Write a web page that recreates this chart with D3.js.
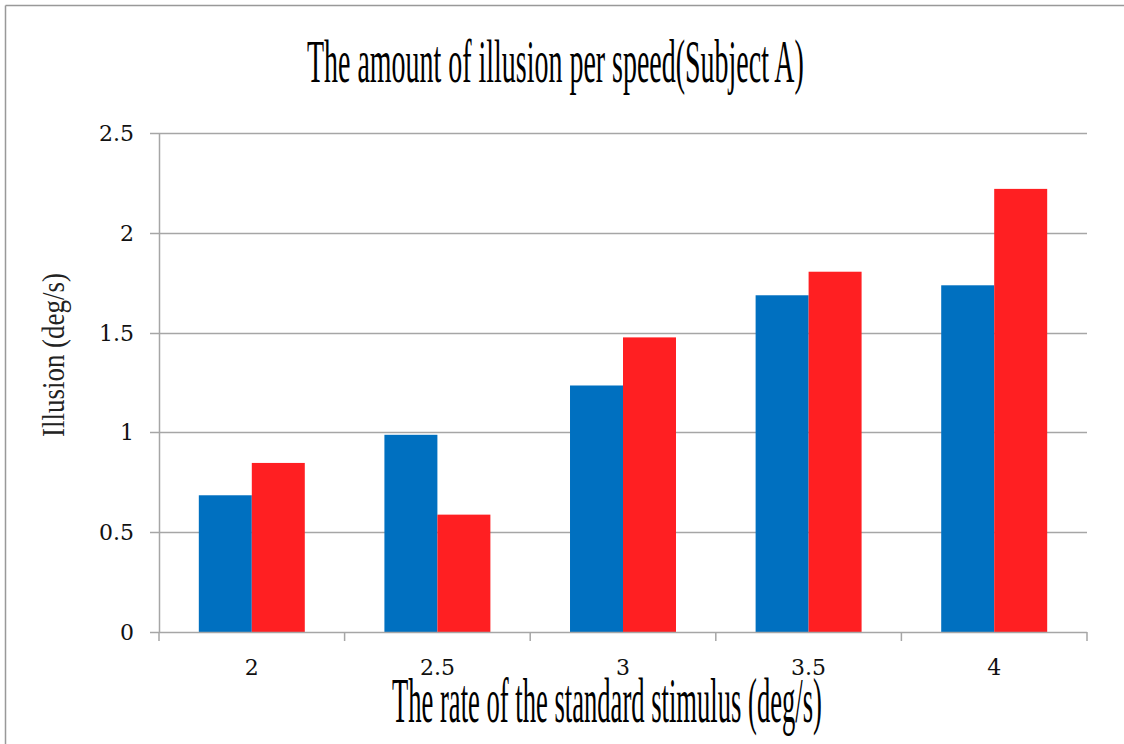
<!DOCTYPE html>
<html>
<head>
<meta charset="utf-8">
<script src="https://cdn.jsdelivr.net/npm/d3@7"></script>
<style>
  html, body { margin: 0; padding: 0; background: #fff; }
  svg { display: block; }
</style>
</head>
<body>
<svg id="chart" width="1124" height="744"></svg>
<script>
const categories = ["2", "2.5", "3", "3.5", "4"];
const seriesNames = ["A", "B"];
const blueValues = [0.685, 0.988, 1.235, 1.687, 1.737];
const redValues = [0.847, 0.588, 1.476, 1.805, 2.220];
const yTicks = [0, 0.5, 1, 1.5, 2, 2.5];
const yTickLabels = ["0", "0.5", "1", "1.5", "2", "2.5"];
const colors = ["#0070C0", "#FF1F22"];
const titleText = "The amount of illusion per speed(Subject A)";
const xTitleText = "The rate of the standard stimulus (deg/s)";
const yTitleText = "Illusion (deg/s)";

(function () {
const svg = d3.select("#chart");
const pLeft = 159, pRight = 1087, pTop = 133, pBottom = 632;
const serif = "'Liberation Serif', 'DejaVu Serif', serif";
const tickFont = "'DejaVu Serif', 'Liberation Serif', serif";

// outer frame (top and left edges visible)
svg.append("line").attr("x1", 5.5).attr("x2", 1124).attr("y1", 5.5).attr("y2", 5.5)
  .attr("stroke", "#999").attr("stroke-width", 1.5);
svg.append("line").attr("x1", 5.5).attr("x2", 5.5).attr("y1", 5.5).attr("y2", 744)
  .attr("stroke", "#999").attr("stroke-width", 1.5);

const x0 = d3.scaleBand().domain(categories).range([pLeft, pRight])
  .paddingInner(0.429).paddingOuter(0.2145);
const x1 = d3.scaleBand().domain(seriesNames).range([0, x0.bandwidth()]);
const y = d3.scaleLinear().domain([0, 2.5]).range([pBottom, pTop]);

// gridlines
svg.append("g").selectAll("line").data(yTicks.filter(d => d > 0)).join("line")
  .attr("x1", pLeft).attr("x2", pRight)
  .attr("y1", d => Math.round(y(d)) + 0.5).attr("y2", d => Math.round(y(d)) + 0.5)
  .attr("stroke", "#A6A6A6").attr("stroke-width", 1.5);

// bars
const data = categories.map((c, i) => ({ cat: c, vals: [blueValues[i], redValues[i]] }));
const groups = svg.append("g").selectAll("g").data(data).join("g")
  .attr("transform", d => `translate(${x0(d.cat)},0)`);
groups.selectAll("rect").data(d => d.vals.map((v, j) => ({ s: seriesNames[j], v, j })))
  .join("rect")
  .attr("x", d => x1(d.s))
  .attr("y", d => y(d.v))
  .attr("width", x1.bandwidth())
  .attr("height", d => y(0) - y(d.v))
  .attr("fill", d => colors[d.j]);

// y axis line and ticks
svg.append("line").attr("x1", pLeft + 0.5).attr("x2", pLeft + 0.5).attr("y1", pTop).attr("y2", pBottom)
  .attr("stroke", "#A6A6A6").attr("stroke-width", 1.5);
svg.append("g").selectAll("line").data(yTicks).join("line")
  .attr("x1", pLeft - 9).attr("x2", pLeft)
  .attr("y1", d => Math.round(y(d)) + 0.5).attr("y2", d => Math.round(y(d)) + 0.5)
  .attr("stroke", "#A6A6A6").attr("stroke-width", 1.5);
svg.append("g").selectAll("text").data(yTicks).join("text")
  .attr("x", 134).attr("y", d => y(d) + 8)
  .attr("text-anchor", "end")
  .attr("font-family", tickFont).attr("font-size", 22).attr("fill", "#111")
  .text((d, i) => yTickLabels[i]);

// x axis line and ticks
svg.append("line").attr("x1", pLeft).attr("x2", pRight).attr("y1", pBottom + 0.5).attr("y2", pBottom + 0.5)
  .attr("stroke", "#A6A6A6").attr("stroke-width", 1.5);
const boundaries = categories.map(c => x0(c) - x0.step() * x0.paddingInner() / 2).concat([pRight]);
boundaries[0] = pLeft;
svg.append("g").selectAll("line").data(boundaries).join("line")
  .attr("x1", d => d).attr("x2", d => d)
  .attr("y1", pBottom).attr("y2", pBottom + 9)
  .attr("stroke", "#A6A6A6").attr("stroke-width", 1.5);
svg.append("g").selectAll("text").data(categories).join("text")
  .attr("x", d => x0(d) + x0.bandwidth() / 2)
  .attr("y", 675)
  .attr("text-anchor", "middle")
  .attr("font-family", tickFont).attr("font-size", 22).attr("fill", "#111")
  .text(d => d);

// condensed text helper: scale horizontally to a target width
function condensed(txt, x, yb, size, width, rotate, fill) {
  const g = svg.append("g");
  const t = g.append("text").attr("x", 0).attr("y", 0)
    .attr("font-family", serif).attr("font-size", size).attr("fill", fill)
    .text(txt);
  const natural = t.node().getComputedTextLength();
  const s = width / natural;
  g.attr("transform", `translate(${x},${yb})` + (rotate ? " rotate(-90)" : "") + ` scale(${s},1)`);
}

condensed(titleText, 307, 82, 62, 497, false, "#000");
condensed(xTitleText, 392, 722, 64, 430, false, "#000");
condensed(yTitleText, 64, 437, 32, 164, true, "#222");
})();
</script>
</body>
</html>
